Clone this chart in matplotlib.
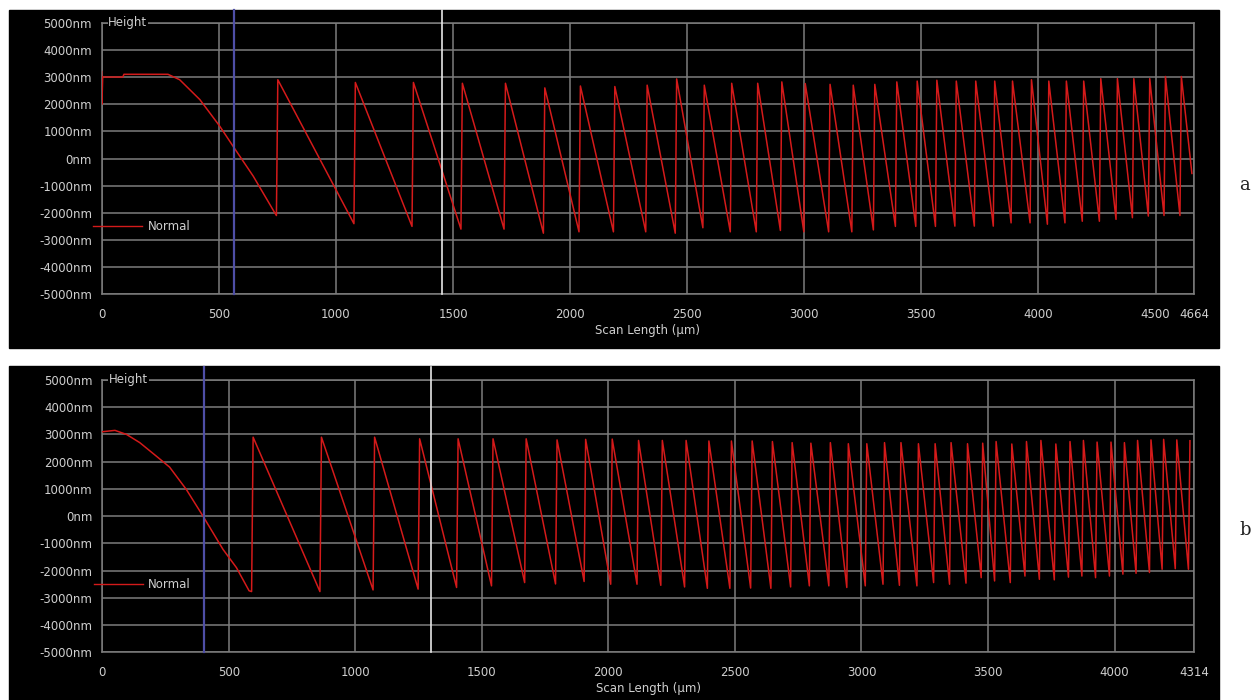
import matplotlib
matplotlib.use("Agg")
import matplotlib.pyplot as plt
from matplotlib.patches import Rectangle

# ---- panel a: scan of 4664 um ----
a_len = 4664
a_start_x = [0, 1, 4, 90, 95, 283, 333, 419, 504, 561, 647, 739]
a_start_y = [3200, 2000, 3000, 3000, 3100, 3100, 2900, 2170, 1190, 450, -650, -2000]
a_rise = [746, 1077, 1325, 1534, 1718, 1886, 2038, 2185, 2323, 2449,
          2567, 2684, 2795, 2898, 2998, 3104, 3203, 3295, 3389, 3476,
          3560, 3643, 3726, 3807, 3883, 3964, 4038, 4113, 4187, 4260,
          4331, 4401, 4469, 4536, 4604]
a_trough = [-2100, -2400, -2500, -2600, -2600, -2750, -2700, -2700, -2700, -2750,
            -2550, -2700, -2700, -2650, -2700, -2700, -2700, -2630, -2500, -2500,
            -2500, -2490, -2490, -2490, -2370, -2370, -2420, -2370, -2310, -2310,
            -2240, -2180, -2120, -2100, -2100]
a_peak = [2900, 2800, 2800, 2770, 2770, 2600, 2670, 2650, 2700, 2930,
          2700, 2770, 2770, 2820, 2760, 2730, 2700, 2730, 2820, 2850,
          2880, 2850, 2850, 2850, 2850, 2900, 2850, 2850, 2850, 2940,
          2940, 2940, 2940, 3020, 3020]
a_tail_x = [4655]
a_tail_y = [-550]
a_cursors = [566, 1454]

# ---- panel b: scan of 4314 um ----
b_len = 4314
b_start_x = [0, 50, 96, 148, 214, 266, 332, 398, 477, 530, 580]
b_start_y = [3100, 3150, 3000, 2700, 2200, 1800, 980, 0, -1220, -1890, -2740]
b_rise = [590, 860, 1070, 1248, 1400, 1538, 1669, 1791, 1904, 2009,
          2113, 2207, 2301, 2391, 2480, 2562, 2642, 2720, 2794, 2871,
          2942, 3015, 3085, 3150, 3219, 3285, 3348, 3413, 3473, 3526,
          3588, 3646, 3703, 3762, 3818, 3871, 3925, 3980, 4033, 4085,
          4138, 4188, 4240, 4292]
b_trough = [-2770, -2770, -2710, -2680, -2620, -2560, -2440, -2490, -2400, -2500,
            -2500, -2540, -2600, -2650, -2650, -2640, -2650, -2600, -2560, -2560,
            -2620, -2560, -2500, -2540, -2560, -2440, -2500, -2460, -2260, -2380,
            -2440, -2200, -2320, -2340, -2240, -2200, -2260, -2200, -2130, -2100,
            -2070, -1950, -1930, -1950]
b_peak = [2900, 2900, 2900, 2840, 2840, 2840, 2840, 2800, 2820, 2830,
          2780, 2780, 2780, 2760, 2760, 2760, 2740, 2700, 2680, 2700,
          2660, 2660, 2700, 2700, 2660, 2660, 2700, 2660, 2680, 2740,
          2650, 2740, 2780, 2650, 2740, 2780, 2720, 2720, 2700, 2780,
          2800, 2820, 2800, 2770]
b_tail_x = []
b_tail_y = []
b_cursors = [402, 1297]

RISE = 6  # width of the near-vertical rise of each tooth, um
W, H = 1260, 700
GRID = "#7d7d7d"
TXT = "#cfcfcf"
TRACE = "#d41a1a"


def build_trace(sx, sy, rise, trough, peak, tx, ty):
    xs, ys = list(sx), list(sy)
    for r, t, p in zip(rise, trough, peak):
        xs += [r, r + RISE]
        ys += [t, p]
    return xs + list(tx), ys + list(ty)


def draw_panel(fig, box, ax_px, length, trace, cursors, tag, tag_y):
    # black instrument background
    x0, y0, x1, y1 = box
    fig.add_artist(Rectangle((x0 / W, 1 - y1 / H), (x1 - x0) / W, (y1 - y0) / H,
                             transform=fig.transFigure, color="black", zorder=0))
    l, t, r, b = ax_px
    ax = fig.add_axes([l / W, 1 - b / H, (r - l) / W, (b - t) / H])
    ax.set_facecolor("black")

    ax.plot(trace[0], trace[1], color=TRACE, lw=1.1, zorder=3)

    # measurement cursors
    ax.axvline(cursors[0] - 4, ymin=0, ymax=1.047, color="#9a9a3a", lw=0.6,
               clip_on=False, zorder=4)
    ax.axvline(cursors[0], ymin=0, ymax=1.047, color="#4e4ea6", lw=1.6,
               clip_on=False, zorder=4)
    ax.axvline(cursors[1], ymin=0, ymax=1.047, color="#e6e6e6", lw=1.2,
               clip_on=False, zorder=4)

    ax.set_xlim(0, length)
    ax.set_ylim(-5000, 5000)
    xt = list(range(0, length, 500)) + [length]
    ax.set_xticks(xt)
    ax.set_xticklabels([str(v) for v in xt])
    yt = list(range(-5000, 5001, 1000))
    ax.set_yticks(yt)
    ax.set_yticklabels([f"{v}nm" for v in yt])
    ax.tick_params(length=0, colors=TXT, labelsize=8.5)
    ax.tick_params(axis="x", pad=10)
    ax.tick_params(axis="y", pad=7)
    ax.grid(True, color=GRID, lw=1.1)
    ax.set_axisbelow(True)
    for s in ax.spines.values():
        s.set_color(GRID)
        s.set_linewidth(1.1)
    ax.set_xlabel("Scan Length (\u00b5m)", color=TXT, fontsize=8.5, labelpad=2)

    ax.text(0.006, 1.0, "Height", transform=ax.transAxes, color=TXT, fontsize=8.5,
            ha="left", va="center", zorder=5,
            bbox=dict(facecolor="black", edgecolor="none", pad=0.5))
    ax.plot([-0.008, 0.037], [0.25, 0.25], transform=ax.transAxes, color=TRACE,
            lw=1.0, clip_on=False, zorder=5)
    ax.text(0.042, 0.25, "Normal", transform=ax.transAxes, color=TXT, fontsize=8.5,
            ha="left", va="center", zorder=5)

    fig.text(1245 / W, 1 - tag_y / H, tag, family="DejaVu Serif", fontsize=13,
             ha="center", va="center", color="#222222")
    return ax


fig = plt.figure(figsize=(W / 100, H / 100), dpi=100, facecolor="white")

trace_a = build_trace(a_start_x, a_start_y, a_rise, a_trough, a_peak, a_tail_x, a_tail_y)
trace_b = build_trace(b_start_x, b_start_y, b_rise, b_trough, b_peak, b_tail_x, b_tail_y)

draw_panel(fig, (9, 10, 1219, 348), (101.7, 22.7, 1194, 294.3), a_len,
           trace_a, a_cursors, "a", 185)
draw_panel(fig, (9, 366, 1219, 700), (102.3, 380, 1194, 652.3), b_len,
           trace_b, b_cursors, "b", 530)

fig.savefig("out.png", dpi=100, facecolor="white")
